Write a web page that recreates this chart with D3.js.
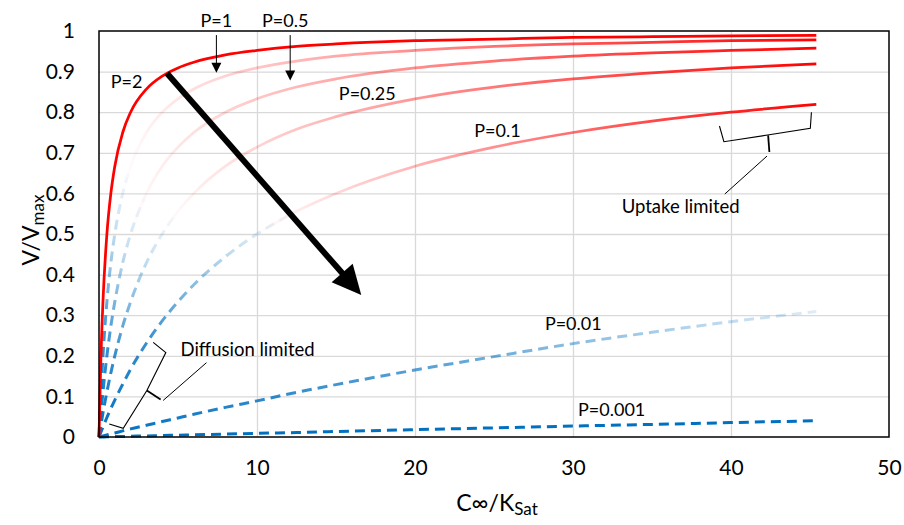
<!DOCTYPE html>
<html>
<head>
<meta charset="utf-8">
<script src="https://cdn.jsdelivr.net/npm/d3@7"></script>
<style>
  html, body { margin: 0; padding: 0; background: #fff; }
  svg { display: block; font-family: Lato, "Open Sans", sans-serif; }
</style>
</head>
<body>
<svg id="chart" width="904" height="525"></svg>
<script>
// Dimensionless bulk concentration C∞/K_Sat at which each curve is sampled
const concRatio = [0, 0.1, 0.25, 0.5, 0.75, 1, 1.5, 2, 3, 4, 5, 6, 8, 10, 12.5, 15, 20, 25, 30, 35, 40, 45.4];

// Relative uptake rate V/Vmax, one array per value of P
const uptakeP2    = [0, 0.167, 0.333, 0.5, 0.6, 0.667, 0.75, 0.8, 0.857, 0.889, 0.909, 0.923, 0.941, 0.952, 0.962, 0.968, 0.976, 0.98, 0.984, 0.986, 0.988, 0.989];
const uptakeP1    = [0, 0.091, 0.2, 0.333, 0.429, 0.5, 0.6, 0.667, 0.75, 0.8, 0.833, 0.857, 0.889, 0.909, 0.926, 0.938, 0.952, 0.962, 0.968, 0.972, 0.976, 0.978];
const uptakeP05   = [0, 0.048, 0.111, 0.2, 0.273, 0.333, 0.429, 0.5, 0.6, 0.667, 0.714, 0.75, 0.8, 0.833, 0.862, 0.882, 0.909, 0.926, 0.938, 0.946, 0.952, 0.958];
const uptakeP025  = [0, 0.024, 0.059, 0.111, 0.158, 0.2, 0.273, 0.333, 0.429, 0.5, 0.556, 0.6, 0.667, 0.714, 0.758, 0.789, 0.833, 0.862, 0.882, 0.897, 0.909, 0.919];
const uptakeP01   = [0, 0.01, 0.024, 0.048, 0.07, 0.091, 0.13, 0.167, 0.231, 0.286, 0.333, 0.375, 0.444, 0.5, 0.556, 0.6, 0.667, 0.714, 0.75, 0.778, 0.8, 0.819];
const uptakeP001  = [0, 0.001, 0.0025, 0.005, 0.0075, 0.01, 0.015, 0.02, 0.029, 0.038, 0.047, 0.056, 0.073, 0.089, 0.11, 0.129, 0.165, 0.198, 0.23, 0.258, 0.284, 0.309];
const uptakeP0001 = [0, 0.0001, 0.0002, 0.0005, 0.0007, 0.001, 0.0014, 0.0018, 0.0027, 0.0036, 0.0045, 0.0054, 0.0072, 0.009, 0.011, 0.0135, 0.018, 0.0225, 0.027, 0.031, 0.0355, 0.04];

const seriesNames  = ["P=2", "P=1", "P=0.5", "P=0.25", "P=0.1", "P=0.01", "P=0.001"];
const seriesValues = [uptakeP2, uptakeP1, uptakeP05, uptakeP025, uptakeP01, uptakeP001, uptakeP0001];

// Axis ticks
const xTicks = [0, 10, 20, 30, 40, 50];
const yTicks = [0, 0.1, 0.2, 0.3, 0.4, 0.5, 0.6, 0.7, 0.8, 0.9, 1];
const yTickLabels = ["0", "0.1", "0.2", "0.3", "0.4", "0.5", "0.6", "0.7", "0.8", "0.9", "1"];

// ---------------------------------------------------------------------------
// Styling: each curve is a dashed blue "diffusion limited" part that fades out
// and a solid red "uptake limited" part that fades in.
const BLUE = "#0070C0", RED = "#FF0000";
const blueFade = [[0, 1], [0.35, 0.78], [0.75, 0.25], [1, 0]];
const fadeStyle = {
  "P=2":     { blue: null,                                            red: { from: 0,   stops: [[0, 1], [1, 1]] } },
  "P=1":     { blue: { to: 2,    stops: blueFade },                   red: { from: 1.5, stops: [[0, 0], [1, 1]] } },
  "P=0.5":   { blue: { to: 3,    stops: blueFade },                   red: { from: 2,   stops: [[0, 0], [1, 1]] } },
  "P=0.25":  { blue: { to: 5,    stops: blueFade },                   red: { from: 4,   stops: [[0, 0], [1, 1]] } },
  "P=0.1":   { blue: { to: 12.5, stops: blueFade },                   red: { from: 10,  stops: [[0, 0], [1, 1]] } },
  "P=0.01":  { blue: { to: 50,   stops: [[0, 1], [0.5, 0.62], [1, 0.13]] }, red: null },
  "P=0.001": { blue: { to: 50,   stops: [[0, 1], [1, 1]] },             red: null }
};

const W = 904, H = 525;
const margin = { top: 31, right: 15, bottom: 88, left: 99 };

const svg = d3.select("#chart");
const x = d3.scaleLinear().domain([0, 50]).range([margin.left, W - margin.right]);
const y = d3.scaleLinear().domain([0, 1]).range([H - margin.bottom, margin.top]);
const pt = (c, v) => [x(c), y(v)];

const defs = svg.append("defs");

// Gridlines
svg.append("g")
  .attr("transform", `translate(0,${y(0)})`)
  .call(d3.axisBottom(x).tickValues(xTicks.slice(1, -1)).tickSize(-(y(0) - y(1))).tickFormat(""))
  .call(g => g.select(".domain").remove())
  .call(g => g.selectAll("line").attr("stroke", "#d9d9d9").attr("stroke-width", 1.3));
svg.append("g")
  .attr("transform", `translate(${x(0)},0)`)
  .call(d3.axisLeft(y).tickValues(yTicks.slice(1, -1)).tickSize(-(x(50) - x(0))).tickFormat(""))
  .call(g => g.select(".domain").remove())
  .call(g => g.selectAll("line").attr("stroke", "#d9d9d9").attr("stroke-width", 1.3));

// Tick labels
svg.append("g")
  .attr("transform", `translate(0,${y(0)})`)
  .call(d3.axisBottom(x).tickValues(xTicks).tickSize(0).tickPadding(23).tickFormat(d3.format("d")))
  .call(g => g.select(".domain").remove())
  .call(g => g.selectAll("text").attr("font-size", 21).attr("font-family", "Lato").attr("fill", "#000"));
svg.append("g")
  .attr("transform", `translate(${x(0)},0)`)
  .call(d3.axisLeft(y).tickValues(yTicks).tickSize(0).tickPadding(24).tickFormat((d, i) => yTickLabels[i]))
  .call(g => g.select(".domain").remove())
  .call(g => g.selectAll("text").attr("font-size", 21).attr("font-family", "Lato").attr("fill", "#000"));

// Curves
const line = d3.line().x(d => x(d[0])).y(d => y(d[1])).curve(d3.curveMonotoneX);
const curvesG = svg.append("g");

function addGradient(id, pts, color, stops) {
  const a = pts[0], b = pts[pts.length - 1];
  const g = defs.append("linearGradient")
    .attr("id", id)
    .attr("gradientUnits", "userSpaceOnUse")
    .attr("x1", x(a[0])).attr("y1", y(a[1]))
    .attr("x2", x(b[0])).attr("y2", y(b[1]));
  stops.forEach(([o, op]) => g.append("stop").attr("offset", o).attr("stop-color", color).attr("stop-opacity", op));
  return `url(#${id})`;
}

// blue (dashed) parts first, then red on top
seriesNames.forEach((name, i) => {
  const st = fadeStyle[name];
  if (!st.blue) return;
  const pts = concRatio.map((c, k) => [c, seriesValues[i][k]]).filter(d => d[0] <= st.blue.to);
  curvesG.append("path")
    .attr("d", line(pts))
    .attr("fill", "none")
    .attr("stroke", addGradient(`blue${i}`, pts, BLUE, st.blue.stops))
    .attr("stroke-width", 3)
    .attr("stroke-dasharray", "10,6");
});
seriesNames.slice().reverse().forEach((name) => {
  const i = seriesNames.indexOf(name);
  const st = fadeStyle[name];
  if (!st.red) return;
  const pts = concRatio.map((c, k) => [c, seriesValues[i][k]]).filter(d => d[0] >= st.red.from);
  curvesG.append("path")
    .attr("d", line(pts))
    .attr("fill", "none")
    .attr("stroke", addGradient(`red${i}`, pts, RED, st.red.stops))
    .attr("stroke-width", 2.75);
});

// Plot frame
svg.append("rect")
  .attr("x", x(0)).attr("y", y(1))
  .attr("width", x(50) - x(0)).attr("height", y(0) - y(1))
  .attr("fill", "none").attr("stroke", "#000").attr("stroke-width", 1.5);

// Annotations
const ann = svg.append("g").attr("fill", "none").attr("stroke", "#000");

function arrow(from, to, width, headLen, headHalf) {
  const dx = to[0] - from[0], dy = to[1] - from[1];
  const len = Math.hypot(dx, dy), ux = dx / len, uy = dy / len;
  const bx = to[0] - ux * headLen, by = to[1] - uy * headLen;
  ann.append("line")
    .attr("x1", from[0]).attr("y1", from[1])
    .attr("x2", bx + ux * 1).attr("y2", by + uy * 1)
    .attr("stroke-width", width);
  ann.append("path")
    .attr("d", `M${to[0]},${to[1]}L${bx - uy * headHalf},${by + ux * headHalf}L${bx + uy * headHalf},${by - ux * headHalf}Z`)
    .attr("fill", "#000").attr("stroke", "none");
}

// trend arrow for decreasing P
arrow(pt(4.3, 0.896), pt(16.6, 0.35), 6, 29, 14);
// pointer arrows for P=1 and P=0.5
arrow(pt(7.43, 0.99), pt(7.43, 0.897), 1, 10, 5);
arrow(pt(12.1, 0.99), pt(12.1, 0.878), 1, 10, 5);

const poly = d3.line();
// bracket over the diffusion-limited ends
ann.append("path").attr("stroke-width", 1.1)
  .attr("d", poly([pt(3.43, 0.233), pt(4.23, 0.208), pt(3.03, 0.1145), pt(1.535, 0.0214), pt(0.65, 0.032)]));
ann.append("path").attr("stroke-width", 1.8)
  .attr("d", poly([pt(3.03, 0.1145), pt(3.9, 0.0924)]));
ann.append("path").attr("stroke-width", 1)
  .attr("d", poly([pt(4.06, 0.09), pt(6.8, 0.183)]));

// bracket over the uptake-limited ends
ann.append("path").attr("stroke-width", 1.1)
  .attr("d", poly([pt(39.27, 0.766), pt(39.55, 0.7273), pt(42.32, 0.7438), pt(45.02, 0.7603), pt(45.09, 0.7998)]));
ann.append("path").attr("stroke-width", 1.8)
  .attr("d", poly([pt(42.35, 0.743), pt(42.43, 0.702)]));
ann.append("path").attr("stroke-width", 1)
  .attr("d", poly([pt(42.28, 0.692), pt(39.61, 0.5985)]));

// Text labels
const labels = [
  { text: "P=1",     c: 7.43,  v: 1.0099, anchor: "middle" },
  { text: "P=0.5",   c: 10.32, v: 1.0099, anchor: "start" },
  { text: "P=2",     c: 0.74,  v: 0.859,  anchor: "start" },
  { text: "P=0.25",  c: 15.18, v: 0.830,  anchor: "start" },
  { text: "P=0.1",   c: 23.75, v: 0.740,  anchor: "start" },
  { text: "P=0.01",  c: 28.22, v: 0.2635, anchor: "start" },
  { text: "P=0.001", c: 30.32, v: 0.0517, anchor: "start" },
  { text: "Diffusion limited", c: 5.16,  v: 0.2,   anchor: "start" },
  { text: "Uptake limited",    c: 33.08, v: 0.552, anchor: "start" }
];
svg.append("g").selectAll("text").data(labels).join("text")
  .attr("x", d => x(d.c)).attr("y", d => y(d.v))
  .attr("text-anchor", d => d.anchor)
  .attr("font-size", d => d.text.length > 8 ? 18.5 : 18).attr("fill", "#000")
  .text(d => d.text);

// Axis titles
const xTitle = svg.append("text")
  .attr("x", 497).attr("y", 511)
  .attr("text-anchor", "middle").attr("font-size", 23).attr("fill", "#000");
xTitle.append("tspan").text("C∞/K");
xTitle.append("tspan").attr("dy", 4).attr("font-size", 17).text("Sat");

const yTitle = svg.append("text")
  .attr("transform", "translate(39,230) rotate(-90)")
  .attr("text-anchor", "middle").attr("font-size", 23).attr("fill", "#000");
yTitle.append("tspan").text("V/V");
yTitle.append("tspan").attr("dy", 5).attr("font-size", 17).text("max");
</script>
</body>
</html>
